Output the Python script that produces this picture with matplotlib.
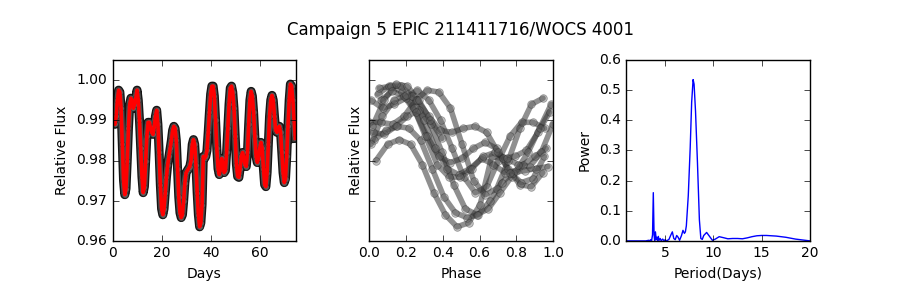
import numpy as np
import matplotlib
matplotlib.use("Agg")
import matplotlib.pyplot as plt
import matplotlib.patheffects as pe

plt.style.use("classic")

days = [0.0, 0.5, 1.0, 1.5, 2.0, 2.5, 3.0, 3.5, 4.0, 4.5,
        5.0, 5.5, 6.0, 6.5, 7.0, 7.5, 8.0, 8.5, 9.0, 9.5,
        10.0, 10.5, 11.0, 11.5, 12.0, 12.5, 13.0, 13.5, 14.0, 14.5,
        15.0, 15.5, 16.0, 16.5, 17.0, 17.5, 18.0, 18.5, 19.0, 19.5,
        20.0, 20.5, 21.0, 21.5, 22.0, 22.5, 23.0, 23.5, 24.0, 24.5,
        25.0, 25.5, 26.0, 26.5, 27.0, 27.5, 28.0, 28.5, 29.0, 29.5,
        30.0, 30.5, 31.0, 31.5, 32.0, 32.5, 33.0, 33.5, 34.0, 34.5,
        35.0, 35.5, 36.0, 36.5, 37.0, 37.5, 38.0, 38.5, 39.0, 39.5,
        40.0, 40.5, 41.0, 41.5, 42.0, 42.5, 43.0, 43.5, 44.0, 44.5,
        45.0, 45.5, 46.0, 46.5, 47.0, 47.5, 48.0, 48.5, 49.0, 49.5,
        50.0, 50.5, 51.0, 51.5, 52.0, 52.5, 53.0, 53.5, 54.0, 54.5,
        55.0, 55.5, 56.0, 56.5, 57.0, 57.5, 58.0, 58.5, 59.0, 59.5,
        60.0, 60.5, 61.0, 61.5, 62.0, 62.5, 63.0, 63.5, 64.0, 64.5,
        65.0, 65.5, 66.0, 66.5, 67.0, 67.5, 68.0, 68.5, 69.0, 69.5,
        70.0, 70.5, 71.0, 71.5, 72.0, 72.5, 73.0, 73.5, 74.0, 74.5]
flux = [0.9895, 0.9895, 0.9890, 0.9910, 0.9950, 0.9975, 0.9970, 0.9930, 0.9840, 0.9750,
        0.9715, 0.9730, 0.9800, 0.9880, 0.9940, 0.9955, 0.9950, 0.9930, 0.9940, 0.9955,
        0.9975, 0.9950, 0.9900, 0.9830, 0.9760, 0.9720, 0.9735, 0.9800, 0.9860, 0.9895,
        0.9895, 0.9880, 0.9870, 0.9865, 0.9885, 0.9910, 0.9925, 0.9890, 0.9820, 0.9740,
        0.9680, 0.9665, 0.9680, 0.9720, 0.9760, 0.9790, 0.9810, 0.9830, 0.9850, 0.9875,
        0.9885, 0.9880, 0.9850, 0.9780, 0.9710, 0.9670, 0.9658, 0.9665, 0.9700, 0.9745,
        0.9770, 0.9775, 0.9780, 0.9785, 0.9800, 0.9840, 0.9852, 0.9840, 0.9790, 0.9720,
        0.9665, 0.9635, 0.9645, 0.9690, 0.9810, 0.9805, 0.9810, 0.9825, 0.9870, 0.9920,
        0.9965, 0.9985, 0.9985, 0.9960, 0.9900, 0.9830, 0.9780, 0.9765, 0.9780, 0.9805,
        0.9790, 0.9770, 0.9775, 0.9820, 0.9880, 0.9940, 0.9980, 0.9985, 0.9970, 0.9930,
        0.9860, 0.9790, 0.9760, 0.9758, 0.9780, 0.9810, 0.9820, 0.9805, 0.9790, 0.9785,
        0.9820, 0.9890, 0.9950, 0.9972, 0.9960, 0.9920, 0.9860, 0.9810, 0.9795, 0.9805,
        0.9830, 0.9845, 0.9830, 0.9780, 0.9740, 0.9735, 0.9770, 0.9840, 0.9910, 0.9950,
        0.9962, 0.9950, 0.9910, 0.9875, 0.9870, 0.9880, 0.9885, 0.9870, 0.9820, 0.9770,
        0.9745, 0.9755, 0.9810, 0.9885, 0.9950, 0.9990, 0.9985, 0.9950, 0.9900, 0.9855]

period = 7.93  # days, peak of the periodogram

# periodogram
per_days = [1.0, 2.0, 3.0, 3.3, 3.4, 3.5, 3.6, 3.7, 3.78, 3.86,
            3.92, 4.0, 4.08, 4.15, 4.22, 4.3, 4.38, 4.5, 4.6, 4.75,
            4.9, 5.0, 5.15, 5.4, 5.6, 5.75, 5.9, 6.05, 6.2, 6.35,
            6.5, 6.7, 6.85, 7.0, 7.1, 7.2, 7.4, 7.6, 7.75, 7.9,
            8.0, 8.15, 8.35, 8.55, 8.7, 8.85, 9.0, 9.3, 9.6, 9.9,
            10.2, 10.6, 11.0, 11.5, 12.0, 12.5, 13.0, 13.5, 14.0, 14.5,
            15.0, 15.5, 16.0, 16.5, 17.0, 17.5, 18.0, 18.5, 19.0, 19.5, 20.0]
power = [0.0, 0.0, 0.0, 0.002, 0.0, 0.004, 0.0, 0.02, 0.16, 0.02,
         0.0, 0.03, 0.005, 0.012, 0.0, 0.015, 0.002, 0.008, 0.0, 0.006,
         0.0, 0.004, 0.0, 0.005, 0.02, 0.03, 0.008, 0.004, 0.018, 0.012,
         0.002, 0.018, 0.035, 0.025, 0.03, 0.05, 0.15, 0.31, 0.46, 0.535,
         0.52, 0.43, 0.26, 0.07, 0.008, 0.005, 0.018, 0.028, 0.015, 0.002,
         0.006, 0.014, 0.011, 0.007, 0.008, 0.008, 0.007, 0.01, 0.014, 0.017,
         0.018, 0.018, 0.017, 0.016, 0.014, 0.012, 0.009, 0.006, 0.004, 0.002, 0.0]

t = np.array(days)
f = np.array(flux)

fig = plt.figure(figsize=(9, 3), dpi=100, facecolor="white")
fig.subplots_adjust(left=0.125, right=0.9, bottom=0.197, top=0.8, wspace=0.4)
ax1 = fig.add_subplot(131)
ax2 = fig.add_subplot(132, sharey=ax1)
ax3 = fig.add_subplot(133)

# light curve: dark dotted band with the red curve over it
ax1.plot(t, f, "-", color="0.3", lw=4.5,
         path_effects=[pe.Stroke(linewidth=6.5, foreground="0.08"), pe.Normal()])
ax1.plot(t, f, "o", ms=4, mfc="0.45", mec="0.1", alpha=0.5)
ax1.plot(t, f, "r-", lw=2.6)
ax1.set_xlim(0, 74.8)
ax1.set_ylim(0.96, 1.005)
ax1.set_xticks([0, 20, 40, 60])
ax1.set_yticks([0.96, 0.97, 0.98, 0.99, 1.00])
ax1.set_xlabel("Days", fontsize=10)
ax1.set_ylabel("Relative Flux", fontsize=10)

# phase folded
phase = (t % period) / period
cuts = np.where(np.diff(phase) < 0)[0] + 1
for seg_p, seg_f in zip(np.split(phase, cuts), np.split(f, cuts)):
    ax2.plot(seg_p, seg_f, "-", color="0.2", lw=4, alpha=0.55, solid_capstyle="round")
ax2.plot(phase, f, "o", ms=5.5, mfc="0.4", mec="0.1", alpha=0.4)
ax2.set_xlim(0, 1)
ax2.set_xticks([0.0, 0.2, 0.4, 0.6, 0.8, 1.0])
ax2.set_xlabel("Phase", fontsize=10)
ax2.set_ylabel("Relative Flux", fontsize=10)
plt.setp(ax2.get_yticklabels(), visible=False)

# periodogram
ax3.plot(per_days, power, "b-", lw=1)
ax3.set_xlim(1, 20)
ax3.set_ylim(0, 0.6)
ax3.set_xticks([5, 10, 15, 20])
ax3.set_xlabel("Period(Days)", fontsize=10)
ax3.set_ylabel("Power", fontsize=10)

for ax in (ax1, ax2, ax3):
    ax.tick_params(labelsize=10)

fig.suptitle("Campaign 5 EPIC 211411716/WOCS 4001", fontsize=12, x=0.512, y=0.93)
fig.savefig("out.png", dpi=100, facecolor="white")
